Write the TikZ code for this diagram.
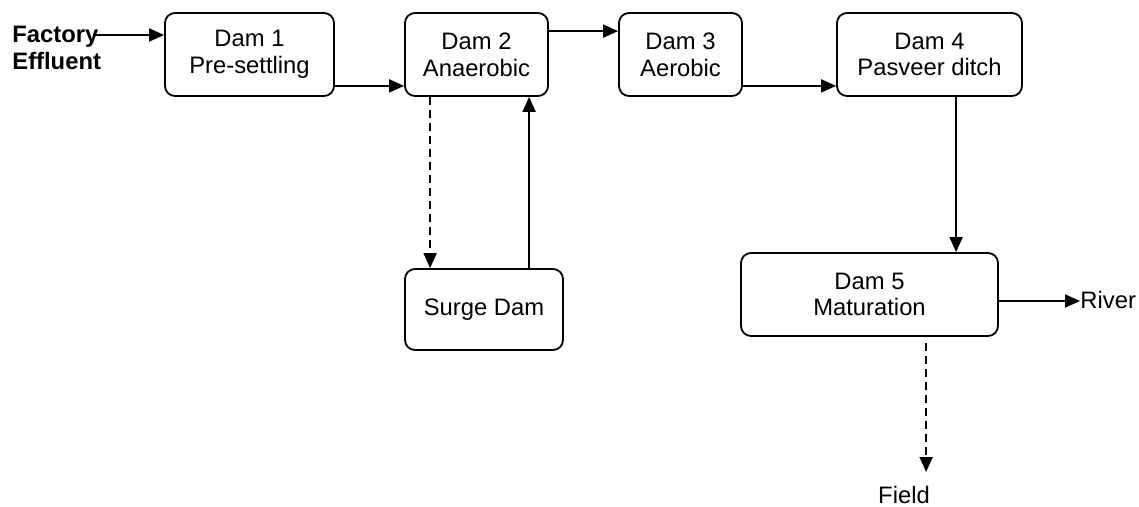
\documentclass[tikz,border=0pt]{standalone}
\usepackage{fontspec}
\setmainfont{Liberation Sans}
\usetikzlibrary{arrows.meta, calc}

\tikzset{
  dam/.style={draw, line width=0.9pt, rounded corners=5pt, align=center, inner sep=0pt,
     font=\fontsize{11.9}{13.4}\selectfont},
  endtext/.style={inner sep=0pt, font=\fontsize{11.9}{13.4}\selectfont},
  flow/.style={-{Triangle[length=7.5pt, width=6.5pt]}, line width=0.9pt},
  drain/.style={flow, dash pattern=on 4pt off 2.5pt}
}

\begin{document}
\begin{tikzpicture}[x=0.5pt, y=-0.5pt]
            \useasboundingbox (0,0) rectangle (1139,507);
            % Dams in a row
            \node[dam, minimum width=84.5pt, minimum height=41.5pt] (dam1) at (249.5,54.5) {Dam 1\\Pre-settling};
            \node[dam, minimum width=71.5pt, minimum height=41.5pt] (dam2) at (476.5,54.5) {Dam 2\\Anaerobic};
            \node[dam, minimum width=61.5pt, minimum height=41.5pt] (dam3) at (680.5,54.5) {Dam 3\\Aerobic};
            \node[dam, minimum width=92.5pt, minimum height=41.5pt] (dam4) at (929.5,54.5) {Dam 4\\Pasveer ditch};
            % Lower dams
            \node[dam, minimum width=79pt, minimum height=40.5pt] (surge) at (484,309.5) {Surge Dam};
            \node[dam, minimum width=128.5pt, minimum height=41.5pt] (dam5) at (869.5,294.5) {Dam 5\\Maturation};
            % Inflow and outlets
            \node[endtext, font=\fontsize{11.9}{13.4}\selectfont\bfseries, align=left, anchor=north west] (effluent) at (12,26) {Factory\\Effluent};
            \node[endtext, anchor=west] (river) at (1080,300) {River};
            \node[endtext, anchor=north] (field) at (904,486) {Field};
            % Main flow
            \coordinate (feed) at (93,35);
            \draw[flow] (feed) -- (feed -| dam1.west);
            \draw[flow] ($(dam1.south east)+(0,-11)$) -- ($(dam2.south west)+(0,-11)$);
            \draw[flow] ($(dam2.north east)+(0,19)$) -- ($(dam3.north west)+(0,19)$);
            \draw[flow] ($(dam3.south east)+(0,-11)$) -- ($(dam4.south west)+(0,-11)$);
            \coordinate (d4out) at ($(dam4.south west)+(120,0)$);
            \draw[flow] (d4out) -- (d4out |- dam5.north);
            % Surge loop
            \draw[drain] ($(dam2.south west)+(26,0)$) -- ($(surge.north west)+(26,0)$);
            \draw[flow] ($(surge.north west)+(125,0)$) -- ($(dam2.south west)+(125,0)$);
            % Discharge
            \coordinate (d5out) at ($(dam5.east)+(0,6.5)$);
            \draw[flow] (d5out) -- (d5out -| river.west);
            \coordinate (d5drain) at ($(dam5.south west)+(186,6)$);
            \draw[drain, shorten >=7pt] (d5drain) -- (d5drain |- field.north);
         \end{tikzpicture}
\end{document}
